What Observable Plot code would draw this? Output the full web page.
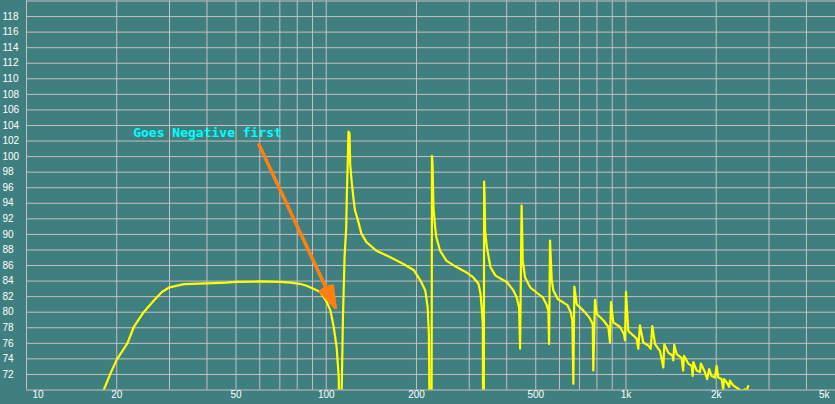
<!DOCTYPE html>
<html>
<head>
<meta charset="utf-8">
<script src="https://cdn.jsdelivr.net/npm/d3@7"></script>
<script src="https://cdn.jsdelivr.net/npm/@observablehq/plot@0.6"></script>
<style>
  html, body { margin: 0; padding: 0; background: #407f7f; }
  svg { display: block; }
</style>
</head>
<body>
<script>
// Frequency response (Hz, dB). Values below 70 dB leave the frame.
const freqs = [
  18.1, 19.05, 20.0, 21.7, 22.8, 24.6, 26.6, 28.3, 30.0, 33.5, 40, 46.4, 50, 60, 70, 76, 81.5, 86, 90.6, 95.5,
  100.5, 103.3, 105.9, 108.3, 109.3, 110.1, 110.8, 112.0, 112.6, 113.7, 115.1, 116.6, 117.1, 118.0, 118.6, 119.6,
  120.2, 121.5, 123.1, 124.7, 127.6, 131, 136.2, 147, 163, 181, 196, 206, 214, 218, 220, 222, 224.5,
  225.3, 226.3, 227.9, 230.3, 233, 239.8, 252, 272, 294, 309, 322, 327, 330, 332.9, 334, 335.3,
  336.3, 337.5, 338.8, 343.3, 353, 367, 401, 421, 432, 439.9, 443.3, 448.5, 452.5, 460.3, 479, 504, 528,
  543, 550.8, 553.8, 558, 565.4, 572.4, 592, 638, 654, 662.2, 667.4, 672.5, 685, 721, 755, 774.5, 778,
  788, 798.6, 843, 873, 884.5, 891, 907.3, 955, 984.8, 992.4, 1000, 1018, 1031, 1085.7, 1099, 1113,
  1142, 1187, 1209, 1224, 1250, 1299, 1332, 1342, 1384, 1431, 1438, 1449, 1476, 1533, 1552, 1561,
  1613, 1656, 1669, 1677, 1721, 1765, 1778, 1834, 1866, 1895, 1930, 1980, 2006, 2031, 2084, 2110,
  2126, 2166, 2210, 2222, 2279, 2339, 2399, 2460, 2492, 2525, 2557
];
const levels = [
  70.0, 72.1, 73.9, 76.0, 78.1, 80.0, 81.5, 82.6, 83.2, 83.6, 83.7, 83.8, 83.9, 83.95, 83.9, 83.8, 83.65, 83.4, 83.0, 82.6,
  81.3, 80.2, 78.1, 75.5, 73.4, 71.6, 60, 60, 70, 79.4, 87.1, 90.9, 94.8, 99.5, 103.2, 103.0,
  99.0, 96.9, 94.8, 93.1, 91.8, 90.1, 89.0, 87.9, 87.1, 86.2, 85.4, 84.1, 82.8, 80.6, 77.2, 60, 60,
  100.1, 99.0, 93.5, 91.3, 89.6, 87.9, 86.6, 85.8, 85.1, 84.5, 83.65, 82.4, 80.6, 78.5, 60, 60,
  96.8, 95.0, 90.5, 88.4, 85.8, 84.7, 83.85, 82.8, 81.9, 80.6, 75.3, 93.7, 86.6, 84.5, 83.2, 82.5, 81.9,
  81.0, 80.2, 75.9, 89.2, 84.1, 82.8, 81.7, 80.9, 80.0, 78.9, 70.8, 83.3, 81.0, 80.2, 79.3, 78.5, 72.5,
  81.6, 79.8, 78.9, 78.1, 76.1, 81.3, 78.7, 78.1, 77.2, 76.4, 82.6, 77.6, 77.4, 76.6, 75.3, 78.3,
  76.1, 75.7, 75.3, 78.2, 75.9, 75.0, 72.9, 75.9, 74.8, 74.4, 73.8, 75.8, 74.6, 74.1, 72.5, 74.4,
  73.4, 73.1, 71.8, 73.6, 72.5, 72.3, 73.4, 72.3, 71.4, 72.7, 71.8, 71.6, 73.1, 71.6, 71.4, 70.1,
  71.4, 71.0, 70.4, 71.2, 70.6, 70.3, 70.0, 69.9, 70.1, 69.9, 70.5
];

// Axis ticks and grid
const xTickValues = [10, 20, 50, 100, 200, 500, 1000, 2000, 5000];
const xTickLabels = ["10", "20", "50", "100", "200", "500", "1k", "2k", "5k"];
const xGrid = [10, 20, 30, 40, 50, 60, 70, 80, 90, 100, 200, 300, 400, 500, 600, 700, 800, 900,
               1000, 2000, 3000, 4000, 5000];
const yTicks = [72, 74, 76, 78, 80, 82, 84, 86, 88, 90, 92, 94, 96, 98, 100, 102, 104, 106, 108, 110,
                112, 114, 116, 118];
const yGrid = [70, 72, 74, 76, 78, 80, 82, 84, 86, 88, 90, 92, 94, 96, 98, 100, 102, 104, 106, 108, 110,
               112, 114, 116, 118, 120];

// Annotation
const noteText = ["Goes Negative first"];
const noteX = [22.7];
const noteY = [103];
const arrowFrom = [59.7, 101.5];
const arrowTo = [107.2, 80.6];
const arrowHeadAngles = [36, 26, 16, 6];

const data = freqs.map((f, i) => ({f, db: levels[i]}));
const ticksX = xTickValues.map((v, i) => ({v, label: xTickLabels[i]}));
const gridColor = "#c6bfbf";

const chart = Plot.plot({
  width: 835,
  height: 404,
  marginLeft: 26,
  marginRight: 0,
  marginTop: 0.5,
  marginBottom: 14.5,
  style: {background: "#407f7f", fontFamily: "Liberation Sans, Arial, sans-serif", fontSize: "10px", color: "white"},
  x: {type: "log", domain: [10, 5000], axis: null},
  y: {domain: [70, 120], axis: null},
  marks: [
    Plot.ruleX(xGrid, {stroke: gridColor, strokeWidth: 1}),
    Plot.ruleY(yGrid, {stroke: gridColor, strokeWidth: 1}),
    Plot.line(data, {x: "f", y: "db", stroke: "#ffff00", strokeWidth: 2.2, clip: true}),
    ...arrowHeadAngles.map(a => Plot.arrow([0], {
      x1: () => arrowFrom[0], y1: () => arrowFrom[1],
      x2: () => arrowTo[0], y2: () => arrowTo[1],
      stroke: "#ff7f10", strokeWidth: 3, headLength: 11, headAngle: a
    })),
    Plot.text(noteText, {
      x: (d, i) => noteX[i], y: (d, i) => noteY[i], text: d => d,
      fill: "#00ffff", fontFamily: "DejaVu Sans Mono, monospace", fontWeight: "bold",
      fontSize: 13, textAnchor: "start"
    }),
    Plot.text(yTicks, {
      y: d => d, text: d => String(d), frameAnchor: "left", dx: -24,
      textAnchor: "start", fill: "white", fontSize: 10
    }),
    Plot.text(ticksX.slice(0, 1), {
      x: "v", text: "label", frameAnchor: "bottom", dy: 8, dx: 6,
      textAnchor: "start", fill: "white", fontSize: 10
    }),
    Plot.text(ticksX.slice(1, -1), {
      x: "v", text: "label", frameAnchor: "bottom", dy: 8,
      textAnchor: "middle", fill: "white", fontSize: 10
    }),
    Plot.text(ticksX.slice(-1), {
      x: "v", text: "label", frameAnchor: "bottom", dy: 8, dx: -6,
      textAnchor: "end", fill: "white", fontSize: 10
    })
  ]
});
document.body.appendChild(chart);
</script>
</body>
</html>
